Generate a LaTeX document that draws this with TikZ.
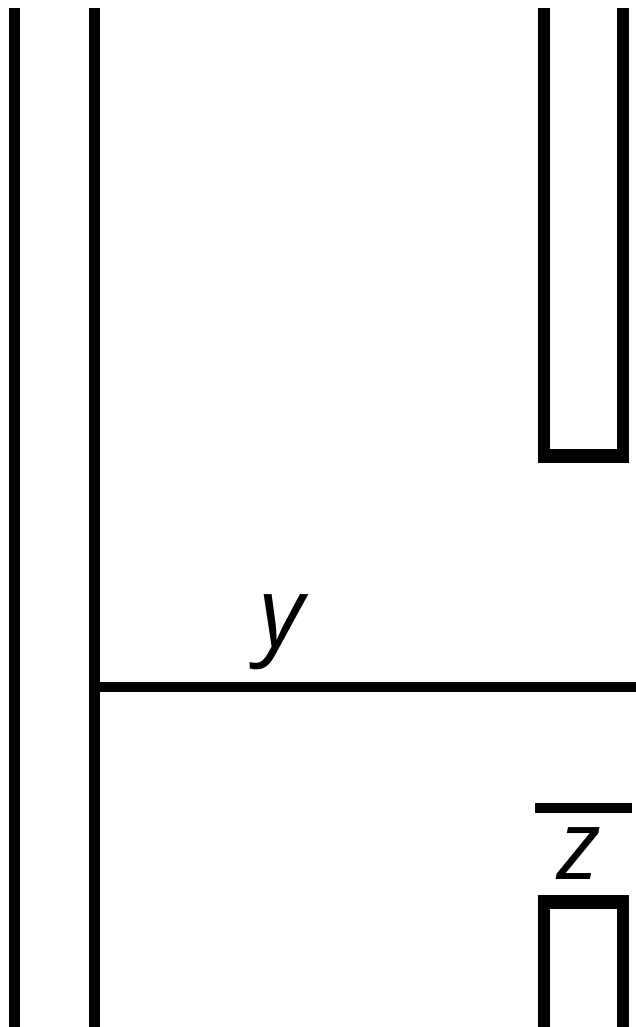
\documentclass[tikz,border=0pt]{standalone}
\usepackage{fontspec}
\setmainfont{Open Sans}
\begin{document}
\begin{tikzpicture}[x=1pt,y=-1pt,
  wire/.style={line width=11pt,line cap=butt,line join=miter},
  lbl/.style={font=\fontsize{97}{100}\selectfont\itshape,inner sep=0pt,anchor=base}]
\useasboundingbox (0,0) rectangle (636,1027);
% left vertical lines
\coordinate (l1t) at (14,8);
\coordinate (l1b) at (14,1027);
\coordinate (l2t) at (94,8);
\coordinate (l2b) at (94,1027);
\draw[wire] (l1t) -- (l1b);
\draw[wire] (l2t) -- (l2b);
% upper right U shape
\coordinate (u1) at (543.5,8);
\coordinate (u4) at (623,8);
\draw[wire,line width=12pt] (u1) -- (543.5,456);
\draw[wire,line width=12pt] (u4) -- (623,456);
\draw[line width=14pt] (537.5,456) -- (629,456);
% horizontal y line
\coordinate (ys) at (100,687);
\coordinate (ye) at (636,687);
\draw[wire,line width=10pt] (ys) -- (ye);
\node[lbl] (ylab) at (282,646) {y};
% bar and z
\coordinate (bs) at (535,808);
\coordinate (be) at (632,808);
\draw[wire,line width=10pt] (bs) -- (be);
\node[lbl] (zlab) at (579,879) {z};
% lower right box
\coordinate (d1) at (543.5,1027);
\coordinate (d4) at (623,1027);
\draw[wire,line width=12pt] (d1) -- (543.5,902);
\draw[wire,line width=12pt] (d4) -- (623,902);
\draw[line width=14pt] (537.5,902) -- (629,902);
\end{tikzpicture}
\end{document}
